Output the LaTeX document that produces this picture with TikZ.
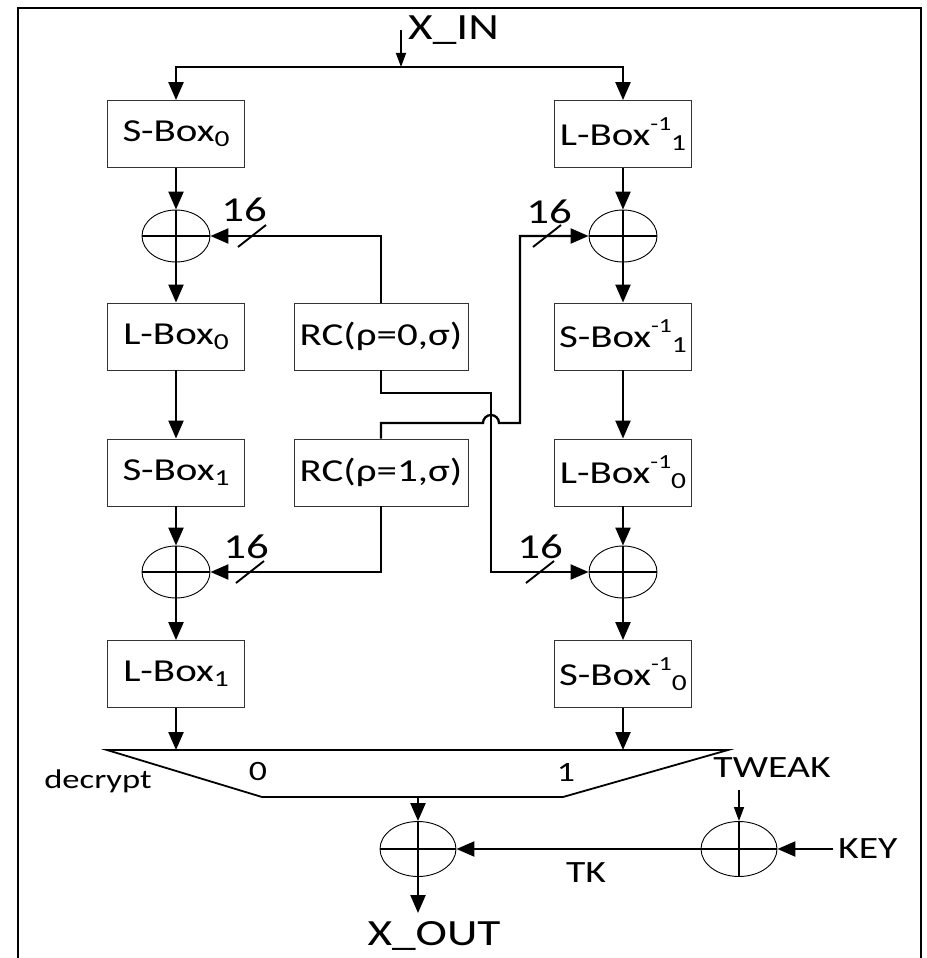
\documentclass[tikz,border=0pt]{standalone}
\usepackage{fontspec}
\setmainfont{Carlito}[FakeStretch=1.28]
\usetikzlibrary{arrows.meta,shapes.geometric,positioning}
\newcommand{\hi}[1]{\raisebox{15pt}{\fontsize{20}{20}\selectfont #1}}
\newcommand{\lo}[1]{\raisebox{-5pt}{\fontsize{23}{23}\selectfont #1}}

\begin{document}
\begin{tikzpicture}[x=1pt,y=-1pt,>={Triangle[length=18pt,width=15pt]},
  wire/.style={line width=2.3pt},
  thinwire/.style={line width=1.4pt,-{Triangle[length=14pt,width=10pt]}},
  box/.style={draw=black!80,line width=0.9pt,minimum width=137pt,minimum height=67pt,
    inner sep=0pt,font=\fontsize{32}{36}\selectfont},
  rcbox/.style={box,minimum width=174pt},
  xor/.style={draw,ellipse,line width=0.9pt,minimum width=68pt,minimum height=52pt,inner sep=0pt,
    path picture={\draw[line width=2.3pt] (path picture bounding box.north) -- (path picture bounding box.south)
      (path picture bounding box.west) -- (path picture bounding box.east);}},
  lbl/.style={inner sep=0pt,font=\fontsize{31}{34}\selectfont}]
 \useasboundingbox (0,0) rectangle (926,958);
 % frame
 \draw[line width=2.5pt] (18,958) -- (18,8) -- (921,8) -- (921,958);
 % boxes, left and right branch
 \node[box] (sbox0) at (176,134) {S-Box\lo{0}};
 \node[box] (lbox0) at (176,336.5) {L-Box\lo{0}};
 \node[box] (sbox1) at (176,472.5) {S-Box\lo{1}};
 \node[box] (lbox1) at (176,674) {L-Box\lo{1}};
 \node[box] (lboxi1) at (623,134) {L-Box\hi{-1}\lo{1}};
 \node[box] (sboxi1) at (623,336.5) {S-Box\hi{-1}\lo{1}};
 \node[box] (lboxi0) at (623,472.5) {L-Box\hi{-1}\lo{0}};
 \node[box] (sboxi0) at (623,674) {S-Box\hi{-1}\lo{0}};
 \node[rcbox] (rc0) at (381,336.5) {RC(ρ=0,σ)};
 \node[rcbox] (rc1) at (381,472.5) {RC(ρ=1,σ)};
 \node[xor] (xa) at (176,236) {};
 \node[xor] (xb) at (623,236) {};
 \node[xor] (xc) at (176,572) {};
 \node[xor] (xd) at (623,572) {};
 % input split
 \node[lbl,anchor=west,font=\fontsize{37}{40}\selectfont] (xin) at (408,30) {X\_IN};
 \coordinate (xin top) at (401,30);
 \coordinate (split) at (401,67);
 \draw[thinwire] (xin top) -- (split);
 \draw[wire,<->] (sbox0.north) |- (split) -| (lboxi1.north);
 \foreach \a/\b in {sbox0/xa,xa/lbox0,lbox0/sbox1,sbox1/xc,xc/lbox1,
   lboxi1/xb,xb/sboxi1,sboxi1/lboxi0,lboxi0/xd,xd/sboxi0}
  \draw[wire,->] (\a) -- (\b);
 % round constants, 16 bit each
 \coordinate (bend a) at (491,393);
 \coordinate (bend b) at (520,423);
 \draw[wire,->] (rc0.north) |- (xa.east);
 \draw[wire,->] (rc1.south) |- (xc.east);
 \draw[wire,->] (rc0.south) |- (bend a) |- (xd.west);
 \draw[wire,->] (rc1.north) |- (483,423) arc[start angle=180,end angle=360,radius=8]
  -- (bend b) |- (xb.west);
 \foreach \x/\y in {252/236,547/236,250/572,540/572}
  \draw[line width=1.9pt] (\x-14,\y+11) -- (\x+14,\y-11);
 \node[lbl,font=\fontsize{35}{38}\selectfont] (wa) at (244,210) {16};
 \node[lbl,font=\fontsize{35}{38}\selectfont] (wb) at (549,212) {16};
 \node[lbl,font=\fontsize{35}{38}\selectfont] (wc) at (246,547) {16};
 \node[lbl,font=\fontsize{35}{38}\selectfont] (wd) at (540,547) {16};
 % multiplexer
 \coordinate (mux tl) at (107,750);
 \coordinate (mux tr) at (728,750);
 \coordinate (mux br) at (563,797);
 \coordinate (mux bl) at (262,797);
 \coordinate (mux out) at (418,797);
 \draw[line width=1.8pt] (mux tl) -- (mux tr) -- (mux br) -- (mux bl) -- cycle;
 \draw[wire,->] (lbox1) -- (lbox1 |- mux tl);
 \draw[wire,->] (sboxi0) -- (sboxi0 |- mux tl);
 \node[lbl,font=\fontsize{28}{32}\selectfont] (sel0) at (258,772) {0};
 \node[lbl,font=\fontsize{28}{32}\selectfont] (sel1) at (566,772) {1};
 \node[lbl,font=\fontsize{27}{32}\selectfont] (dec) at (98,781) {decrypt};
 % tweakey and output
 \node[xor,minimum width=76pt,minimum height=55pt] (xe) at (418,849) {};
 \node[xor,minimum width=76pt,minimum height=55pt] (xf) at (739,849) {};
 \node[lbl] (tweak) at (772,768) {TWEAK};
 \node[lbl,anchor=west] (key) at (838,849) {KEY};
 \node[lbl] (tk) at (586,873) {TK};
 \node[lbl,font=\fontsize{37}{40}\selectfont] (xout) at (434,936) {X\_OUT};
 \coordinate (tweak in) at (739,790);
 \coordinate (out end) at (418,913);
 \draw[wire,->] (mux out) -- (xe);
 \draw[wire,->] (xe) -- (out end);
 \draw[thinwire] (tweak in) -- (xf);
 \draw[wire,->] ([xshift=-5pt]key.west) -- (xf);
 \draw[wire,->] (xf) -- (xe);
\end{tikzpicture}
\end{document}
